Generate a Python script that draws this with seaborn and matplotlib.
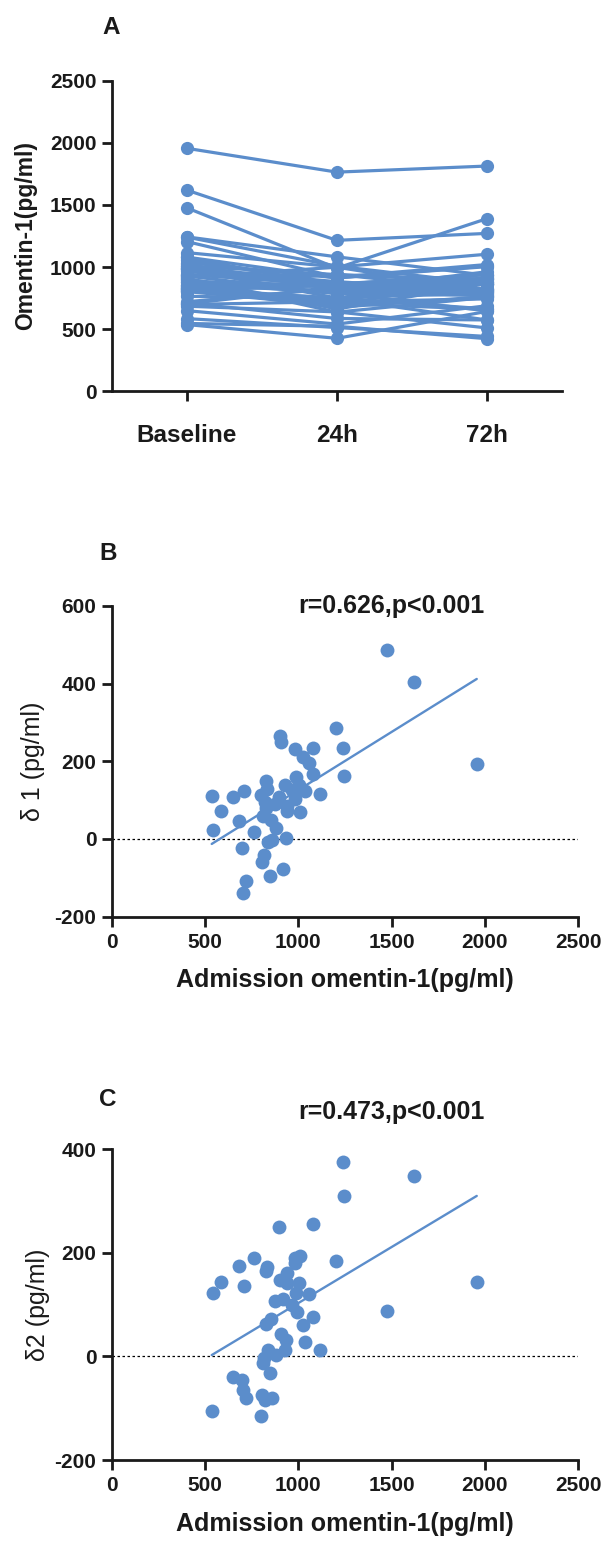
import pandas as pd
import matplotlib
matplotlib.use("Agg")
import matplotlib.pyplot as plt
import seaborn as sns

sns.set_style("ticks")
plt.rcParams['font.family'] = ['Liberation Sans', 'DejaVu Sans']
plt.rcParams['axes.unicode_minus'] = False

BLUE = '#5B8DCB'

# valores (um paciente por posição)
baseline = [536, 545, 584, 648, 684, 698, 703, 709, 720, 764,
            802, 805, 810, 814, 820, 825, 827, 833, 839, 846,
            853, 857, 877, 882, 896, 902, 910, 920, 927, 934,
            937, 941, 966, 982, 985, 988, 991, 1005, 1008, 1023,
            1036, 1059, 1077, 1080, 1116, 1205, 1241, 1243, 1477, 1620,
            1957]
h24 = [425, 522, 512, 540, 638, 720, 841, 585, 828, 745,
       689, 864, 751, 854, 725, 675, 748, 705, 846, 941,
       804, 860, 787, 853, 789, 636, 661, 998, 787, 932,
       865, 856, 839, 750, 882, 829, 861, 865, 939, 813,
       912, 863, 844, 912, 1000, 919, 1007, 1082, 991, 1215,
       1765]
h72 = [642, 422, 440, 688, 509, 743, 768, 573, 801, 573,
       917, 879, 823, 817, 905, 762, 662, 660, 826, 878,
       780, 938, 770, 879, 646, 755, 866, 810, 915, 903,
       776, 799, 866, 791, 804, 865, 905, 864, 814, 962,
       1008, 939, 822, 1003, 1103, 1020, 865, 933, 1390, 1271,
       1814]
delta1 = [111, 23, 72, 108, 46, -22, -138, 124, -108, 19,
          113, -59, 59, -40, 95, 150, 79, 128, -7, -95,
          49, -3, 90, 29, 107, 266, 249, -78, 140, 2,
          72, 85, 127, 232, 103, 159, 130, 140, 69, 210,
          124, 196, 233, 168, 116, 286, 234, 161, 486, 405,
          192]
delta2 = [-106, 123, 144, -40, 175, -45, -65, 136, -81, 191,
          -115, -74, -13, -3, -85, 63, 165, 173, 13, -32,
          73, -81, 107, 3, 250, 147, 44, 110, 12, 31,
          161, 142, 100, 191, 181, 123, 86, 141, 194, 61,
          28, 120, 255, 77, 13, 185, 376, 310, 87, 349,
          143]

TEMPOS = ['Baseline', '24h', '72h']
STATS_B = "r=0.626,p<0.001"
STATS_C = "r=0.473,p<0.001"


def estilo(ax):
    sns.despine(ax=ax)
    for s in ['left', 'bottom']:
        ax.spines[s].set_linewidth(2.0)
        ax.spines[s].set_color('#1a1a1a')
    ax.tick_params(width=2.0, length=7.5, color='#1a1a1a', labelsize=15)
    for lab in ax.get_xticklabels() + ax.get_yticklabels():
        lab.set_fontweight('bold')
        lab.set_color('#1a1a1a')


fig = plt.figure(figsize=(6.04, 15.45), dpi=100)

# ---------------------------------------------------------- Painel A
df_long = pd.DataFrame({
    'paciente': list(range(len(baseline))) * 3,
    'tempo': [TEMPOS[0]] * len(baseline) + [TEMPOS[1]] * len(h24) + [TEMPOS[2]] * len(h72),
    'valor': baseline + h24 + h72,
})
ax_a = fig.add_axes([0.185, 0.7469, 0.7455, 0.2007])
sns.lineplot(data=df_long, x='tempo', y='valor', units='paciente', estimator=None,
             color=BLUE, marker='o', markersize=9.5, markeredgewidth=0,
             linewidth=2.3, ax=ax_a)
ax_a.set_xlim(-0.5, 2.5)
ax_a.set_ylim(0, 2500)
ax_a.set_yticks(range(0, 2501, 500))
ax_a.set_xlabel('')
ax_a.set_ylabel('Omentin-1(pg/ml)', fontsize=16.5, fontweight='bold', color='#1a1a1a')
ax_a.yaxis.set_label_coords(-0.165, 0.5)
estilo(ax_a)
ax_a.tick_params(axis='x', pad=16, labelsize=17.5)

# ---------------------------------------------------------- Painéis B e C
def painel_delta(ax, y, ylim, yticks, ylabel, stats, ystats, labx):
    sns.regplot(x=baseline, y=y, ci=None, color=BLUE, truncate=True, ax=ax,
                scatter_kws={'s': 100, 'alpha': 1, 'linewidths': 0},
                line_kws={'linewidth': 1.7})
    ax.axhline(0, color='black', linestyle=(0, (2, 2)), linewidth=0.9, zorder=0)
    ax.set_xlim(0, 2500)
    ax.set_ylim(*ylim)
    ax.set_xticks(range(0, 2501, 500))
    ax.set_yticks(yticks)
    ax.set_xlabel('Admission omentin-1(pg/ml)', fontsize=18, fontweight='bold',
                  color='#1a1a1a', labelpad=12)
    ax.set_ylabel(ylabel, fontsize=18, color='#1a1a1a')
    ax.yaxis.set_label_coords(labx, 0.5)
    ax.text(1500, ystats, stats, fontsize=18, fontweight='bold', color='#1a1a1a',
            ha='center', va='center')
    estilo(ax)
    ax.tick_params(axis='x', pad=4)


ax_b = fig.add_axes([0.185, 0.4067, 0.772, 0.2011])
painel_delta(ax_b, delta1, (-200, 600), range(-200, 601, 200), 'δ 1 (pg/ml)',
             STATS_B, 600, -0.143)

ax_c = fig.add_axes([0.185, 0.0550, 0.772, 0.2011])
painel_delta(ax_c, delta2, (-200, 400), range(-200, 401, 200), 'δ2 (pg/ml)',
             STATS_C, 472, -0.132)

# letras dos painéis
for letra, (px, py) in {'A': (111, 28), 'B': (108, 554), 'C': (108, 1100)}.items():
    fig.text(px / 604, 1 - py / 1545, letra, fontsize=17.5, fontweight='bold',
             color='#1a1a1a', ha='center', va='center')

fig.savefig('out.png', dpi=100)
